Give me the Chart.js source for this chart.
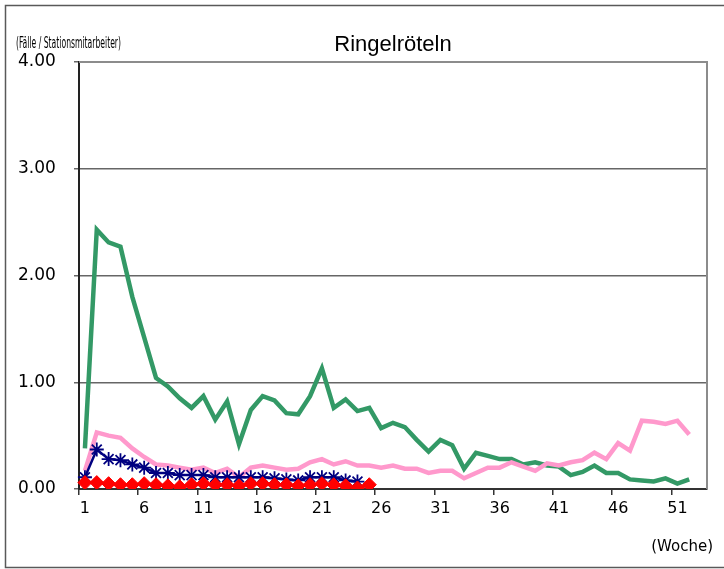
<!DOCTYPE html>
<html>
<head>
<meta charset="utf-8">
<script src="https://cdn.jsdelivr.net/npm/chart.js@4.4.0/dist/chart.umd.min.js"></script>
<style>
  html, body { margin: 0; padding: 0; background: #fff; }
  #wrap { width: 724px; height: 569px; }
</style>
</head>
<body>
<div id="wrap"><canvas id="chart" width="724" height="569"></canvas></div>
<script>
// Wochen 1..53
let weeks = [1, 2, 3, 4, 5, 6, 7, 8, 9, 10, 11, 12, 13, 14, 15, 16, 17, 18, 19, 20,
    21, 22, 23, 24, 25, 26, 27, 28, 29, 30, 31, 32, 33, 34, 35, 36, 37, 38, 39, 40,
    41, 42, 43, 44, 45, 46, 47, 48, 49, 50, 51, 52, 53];

let greenSeries = [0.38, 2.43, 2.31, 2.27, 1.80, 1.42, 1.04, 0.96, 0.85, 0.76,
    0.87, 0.65, 0.82, 0.42, 0.74, 0.87, 0.83, 0.71, 0.70, 0.87,
    1.13, 0.76, 0.84, 0.73, 0.76, 0.57, 0.62, 0.58, 0.46, 0.35,
    0.46, 0.41, 0.19, 0.34, 0.31, 0.28, 0.28, 0.23, 0.25, 0.22,
    0.21, 0.13, 0.16, 0.22, 0.15, 0.15, 0.09, 0.08, 0.07, 0.10,
    0.05, 0.09];

let pinkSeries = [0.17, 0.53, 0.50, 0.48, 0.38, 0.30, 0.23, 0.22, 0.20, 0.18,
    0.20, 0.15, 0.19, 0.11, 0.20, 0.22, 0.20, 0.18, 0.19, 0.25,
    0.28, 0.23, 0.26, 0.22, 0.22, 0.20, 0.22, 0.19, 0.19, 0.15,
    0.17, 0.17, 0.10, 0.15, 0.20, 0.20, 0.25, 0.21, 0.17, 0.24,
    0.22, 0.25, 0.27, 0.34, 0.28, 0.43, 0.36, 0.64, 0.63, 0.61,
    0.64, 0.51];

let blueSeries = [0.11, 0.37, 0.28, 0.27, 0.23, 0.20, 0.15, 0.15, 0.13, 0.13,
    0.13, 0.11, 0.11, 0.11, 0.11, 0.11, 0.10, 0.09, 0.08, 0.11,
    0.11, 0.11, 0.08, 0.07];

let redSeries = [0.06, 0.06, 0.05, 0.04, 0.04, 0.05, 0.04, 0.03, 0.02, 0.04,
    0.05, 0.04, 0.04, 0.03, 0.05, 0.05, 0.04, 0.04, 0.03, 0.04,
    0.05, 0.04, 0.03, 0.01, 0.04];

let yTicks = [0, 1, 2, 3, 4];

// Rahmen, Titel und Achsentexte
const decor = {
    id: 'decor',
    beforeDraw(chart) {
        const c = chart.ctx;
        c.save();
        c.fillStyle = '#fff';
        c.fillRect(0, 0, chart.width, chart.height);
        c.strokeStyle = '#595959';
        c.lineWidth = 1.5;
        c.beginPath();
        c.moveTo(chart.width + 2, 5.5);
        c.lineTo(5.5, 5.5);
        c.lineTo(5.5, 567.5);
        c.lineTo(chart.width + 2, 567.5);
        c.stroke();
        c.restore();
    },
    afterDatasetsDraw(chart) {
        const c = chart.ctx;
        const a = chart.chartArea;
        c.save();
        c.strokeStyle = '#8c8c8c';
        c.lineWidth = 2;
        c.beginPath();
        c.moveTo(a.left, a.top);
        c.lineTo(a.right, a.top);
        c.lineTo(a.right, a.bottom);
        c.stroke();

        c.fillStyle = '#000';
        c.textBaseline = 'middle';
        c.textAlign = 'center';
        c.font = '22px "Liberation Sans", Arial, sans-serif';
        c.fillText('Ringelröteln', (a.left + a.right) / 2, 45);

        c.textAlign = 'left';
        c.font = '15px "Liberation Sans Narrow", "DejaVu Sans Condensed", sans-serif';
        let label = '(Fälle / Stationsmitarbeiter)';
        let w = c.measureText(label).width;
        c.translate(16, 44);
        c.scale(105 / w, 1);
        c.fillText(label, 0, 0);
        c.setTransform(1, 0, 0, 1, 0, 0);

        c.font = '15px "DejaVu Sans", sans-serif';
        c.textAlign = 'right';
        c.fillText('(Woche)', 713, 547);
        c.restore();
    }
};

new Chart(document.getElementById('chart'), {
    type: 'line',
    data: {
        labels: weeks,
        datasets: [{
            label: 'Grün',
            data: greenSeries,
            borderColor: '#339966',
            borderWidth: 4.5,
            pointRadius: 0,
            order: 4
        }, {
            label: 'Rosa',
            data: pinkSeries,
            borderColor: '#ff99cc',
            borderWidth: 4.5,
            pointRadius: 0,
            order: 3
        }, {
            label: 'Blau',
            data: blueSeries,
            borderColor: '#000080',
            backgroundColor: '#000080',
            borderWidth: 2.5,
            pointStyle: 'star',
            pointRadius: 7,
            pointBorderWidth: 1.8,
            order: 2
        }, {
            label: 'Rot',
            data: redSeries,
            borderColor: '#ff0000',
            backgroundColor: '#ff0000',
            borderWidth: 3,
            pointStyle: 'rectRot',
            pointRadius: 7,
            pointBorderWidth: 1,
            order: 1
        }]
    },
    options: {
        responsive: false,
        animation: false,
        layout: { padding: { left: 18, top: 62, right: 17, bottom: 0 } },
        plugins: {
            legend: { display: false },
            title: { display: false },
            tooltip: { enabled: false }
        },
        scales: {
            x: {
                offset: true,
                afterFit(s) { s.height = 80; },
                grid: {
                    offset: true,
                    drawOnChartArea: false,
                    tickLength: 6,
                    lineWidth: 1.5,
                    color: ctx => (ctx.index % 5 === 0 ? '#333' : 'rgba(0,0,0,0)')
                },
                border: { color: '#333', width: 2 },
                ticks: {
                    autoSkip: false,
                    maxRotation: 0,
                    padding: 4,
                    color: '#000',
                    font: { family: '"DejaVu Sans", sans-serif', size: 16 },
                    callback(v, i) { return i % 5 === 0 ? String(weeks[i]) : ''; }
                }
            },
            y: {
                min: yTicks[0],
                max: yTicks[yTicks.length - 1],
                afterFit(s) { s.width = 61; },
                afterBuildTicks(s) { s.ticks = yTicks.map(v => ({ value: v })); },
                grid: {
                    color: '#666',
                    lineWidth: 1.5,
                    tickLength: 5
                },
                border: { color: '#222', width: 2 },
                ticks: {
                    crossAlign: 'far',
                    color: '#000',
                    font: { family: '"DejaVu Sans", sans-serif', size: 17 },
                    callback(v) { return v.toFixed(2); }
                }
            }
        }
    },
    plugins: [decor]
});
</script>
</body>
</html>
